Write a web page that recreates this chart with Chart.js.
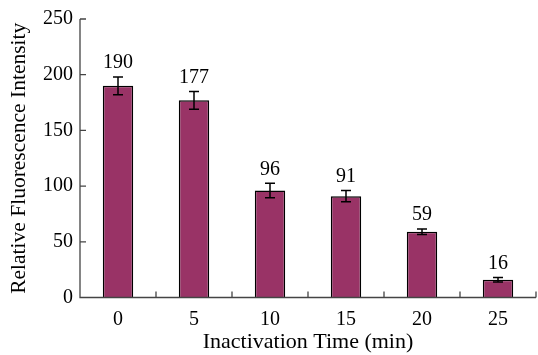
<!DOCTYPE html>
<html>
<head>
<meta charset="utf-8">
<script src="https://cdn.jsdelivr.net/npm/chart.js@4/dist/chart.umd.min.js"></script>
<style>
  html, body { margin: 0; padding: 0; background: #fff; }
  #wrap { width: 538px; height: 355px; }
</style>
</head>
<body>
<div id="wrap"><canvas id="chart" width="538" height="355"></canvas></div>
<script>
// values
var categories = ['0', '5', '10', '15', '20', '25'];
var intensity = [190, 177, 96, 91, 59, 16];
var errors = [8, 8, 6.5, 5, 2.5, 2];
var yTicks = [0, 50, 100, 150, 200, 250];

var serif = "'Liberation Serif', 'DejaVu Serif', serif";
var axisColor = '#444';

// error bars, value labels and the small inward ticks
var extras = {
    id: 'extras',
    afterDatasetsDraw: function(chart) {
        var ctx = chart.ctx;
        var xs = chart.scales.x, ys = chart.scales.y;
        var meta = chart.getDatasetMeta(0);
        ctx.save();

        // error bars
        ctx.strokeStyle = '#000';
        ctx.lineWidth = 1.5;
        meta.data.forEach(function(bar, i) {
            var x = bar.x;
            var top = ys.getPixelForValue(intensity[i] + errors[i]);
            var bot = ys.getPixelForValue(intensity[i] - errors[i]);
            ctx.beginPath();
            ctx.moveTo(x, top); ctx.lineTo(x, bot);
            ctx.moveTo(x - 5, top); ctx.lineTo(x + 5, top);
            ctx.moveTo(x - 5, bot); ctx.lineTo(x + 5, bot);
            ctx.stroke();

            ctx.fillStyle = '#000';
            ctx.font = '20px ' + serif;
            ctx.textAlign = 'center';
            ctx.textBaseline = 'bottom';
            ctx.fillText(String(intensity[i]), x, top - 4);
        });

        // axis lines and inside ticks
        ctx.strokeStyle = axisColor;
        ctx.lineWidth = 1.3;
        var left = chart.chartArea.left, bottom = chart.chartArea.bottom;
        ctx.beginPath();
        ctx.moveTo(left, chart.chartArea.top);
        ctx.lineTo(left, bottom);
        ctx.lineTo(chart.chartArea.right, bottom);
        yTicks.forEach(function(v) {
            var y = ys.getPixelForValue(v);
            ctx.moveTo(left, y); ctx.lineTo(left + 6, y);
        });
        var step = xs.getPixelForValue(1) - xs.getPixelForValue(0);
        for (var i = 0; i < categories.length; i++) {
            var xb = xs.getPixelForValue(i) + step / 2;
            ctx.moveTo(xb, bottom); ctx.lineTo(xb, bottom - 6);
        }
        ctx.stroke();
        ctx.restore();
    }
};

new Chart(document.getElementById('chart'), {
    type: 'bar',
    data: {
        labels: categories,
        datasets: [{
            data: intensity,
            backgroundColor: '#993366',
            borderColor: '#000',
            borderWidth: 1.5,
            barPercentage: 0.4,
            categoryPercentage: 1.0
        }]
    },
    options: {
        responsive: false,
        animation: false,
        layout: { padding: { top: 17, right: 2, left: 0, bottom: 0 } },
        plugins: { legend: { display: false }, tooltip: { enabled: false } },
        scales: {
            x: {
                offset: true,
                grid: { display: false, drawTicks: false },
                border: { display: false },
                ticks: { color: '#000', font: { family: serif, size: 20 }, padding: 10 },
                title: {
                    display: true, text: 'Inactivation Time (min)', color: '#000',
                    font: { family: serif, size: 22 }, padding: { top: 0, bottom: 0 }
                },
                afterFit: function(s) { s.height = 57.5; }
            },
            y: {
                min: 0, max: 250,
                afterBuildTicks: function(s) { s.ticks = yTicks.map(function(v) { return { value: v }; }); },
                grid: { display: false, drawTicks: false },
                border: { display: false },
                ticks: { color: '#000', font: { family: serif, size: 20 }, padding: 7 },
                title: {
                    display: true, text: 'Relative Fluorescence Intensity', color: '#000',
                    font: { family: serif, size: 21.5 }, padding: { top: 6, bottom: 0 }
                },
                afterFit: function(s) { s.width = 80; }
            }
        }
    },
    plugins: [extras]
});
</script>
</body>
</html>
